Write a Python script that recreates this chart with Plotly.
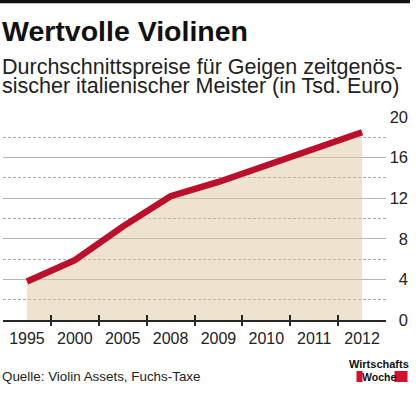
import plotly.graph_objects as go

# ---- data ----
years = ["1995", "2000", "2005", "2008", "2009", "2010", "2011", "2012"]
prices = [3.8, 5.9, 9.2, 12.2, 13.6, 15.2, 16.9, 18.5]   # Tsd. Euro
y_ticks = [0, 4, 8, 12, 16, 20]
y_minor = [2, 6, 10, 14, 18]

title = "Wertvolle Violinen"
subtitle1 = "Durchschnittspreise für Geigen zeitgenös-"
subtitle2 = "sischer italienischer Meister (in Tsd. Euro)"
source = "Quelle: Violin Assets, Fuchs-Taxe"

# ---- geometry helpers (pixel -> paper) ----
W, H = 416, 397
ML, MR, MT, MB = 3, 8, 117, 77
PW, PH = W - ML - MR, H - MT - MB
def px(x):
    return (x - ML) / PW
def py(y):
    return (H - MB - y) / PH

xs = list(range(len(years)))
bounds = [i + 0.5 for i in range(len(years) - 1)]
XR = [-0.5, len(years) - 0.5]

RED = "#bb0f2b"
SANS = "Liberation Sans, Arial, sans-serif"

fig = go.Figure()
fig.add_trace(go.Scatter(
    x=xs, y=prices, mode="lines", fill="tozeroy",
    fillcolor="rgba(222,200,158,0.5)",
    line=dict(color=RED, width=6.5), hoverinfo="skip", showlegend=False,
))
# invisible helpers that bind the extra axes
for xa, ya in [("x2", "y"), ("x3", "y"), ("x", "y2")]:
    fig.add_trace(go.Scatter(x=xs, y=prices, xaxis=xa, yaxis=ya, mode="markers",
                             marker=dict(opacity=0), hoverinfo="skip", showlegend=False))

xdom = [0, px(386)]
fig.update_layout(
    width=W, height=H, template="none",
    margin=dict(l=ML, r=MR, t=MT, b=MB),
    paper_bgcolor="white", plot_bgcolor="white",
    xaxis=dict(domain=xdom, range=XR, tickvals=xs, ticktext=years, ticks="",
               showgrid=False, zeroline=False, showline=True, linecolor="#262626",
               linewidth=2, tickfont=dict(family=SANS, size=16, color="#222"),
               ticklabelstandoff=3, automargin=False, fixedrange=True),
    xaxis2=dict(domain=xdom, range=XR, overlaying="x", anchor="y", side="bottom",
                tickvals=bounds, showticklabels=False, ticks="outside", ticklen=5,
                tickwidth=1.5, tickcolor="#262626", showgrid=False, zeroline=False,
                showline=False, automargin=False),
    xaxis3=dict(domain=xdom, range=XR, overlaying="x", anchor="y", side="bottom",
                tickvals=bounds, showticklabels=False, ticks="inside", ticklen=5,
                tickwidth=1.5, tickcolor="#262626", showgrid=False, zeroline=False,
                showline=False, automargin=False),
    yaxis=dict(range=[0, 20], tickvals=y_ticks[1:], showticklabels=False, ticks="",
               showgrid=True, gridcolor="#b4b4b4", gridwidth=1, zeroline=False,
               showline=False, automargin=False, fixedrange=True,
               minor=dict(tickvals=y_minor, showgrid=True, gridcolor="#a8a8a8",
                          gridwidth=1, griddash="3px,2px", ticks="")),
    yaxis2=dict(range=[0, 20], overlaying="y", anchor="free", position=1.0,
                side="left", tickvals=y_ticks, ticktext=[str(v) for v in y_ticks],
                ticks="", showgrid=False, zeroline=False, showline=False,
                tickfont=dict(family=SANS, size=16.5, color="#222"),
                automargin=False, fixedrange=True),
)

shapes = [
    dict(type="rect", xref="paper", yref="paper", x0=px(0), x1=px(410),
         y0=py(3.3), y1=py(0), fillcolor="#111", line=dict(width=0)),
    dict(type="rect", xref="paper", yref="paper", x0=px(356.5), x1=px(362.5),
         y0=py(382), y1=py(371), fillcolor="#d5102c", line=dict(width=0)),
    dict(type="rect", xref="paper", yref="paper", x0=px(394.5), x1=px(407.5),
         y0=py(382), y1=py(371), fillcolor="#d5102c", line=dict(width=0)),
]
fig.update_layout(shapes=shapes)

def ann(text, x, y, size, family, color="#111", xanchor="left"):
    return dict(text=text, x=px(x), y=py(y), xref="paper", yref="paper",
                xanchor=xanchor, yanchor="middle", showarrow=False, borderpad=0,
                font=dict(family=family, size=size, color=color))

fig.update_layout(annotations=[
    ann("<b>" + title + "</b>", 1, 31, 28.5, SANS),
    ann(subtitle1, 1, 67, 21.5, SANS, "#222"),
    ann(subtitle2, 1, 86.5, 21.5, SANS, "#222"),
    ann(source, 1, 376, 13.4, SANS, "#222"),
    ann("<b>Wirtschafts</b>", 410, 363.5, 11, SANS, "#111", xanchor="right"),
    ann("<b>Woche</b>", 378.5, 376.5, 10.5, SANS, "#111", xanchor="center"),
])

fig.write_html("out.html", config={"displayModeBar": False},
               post_script="document.body.style.margin='0';")
